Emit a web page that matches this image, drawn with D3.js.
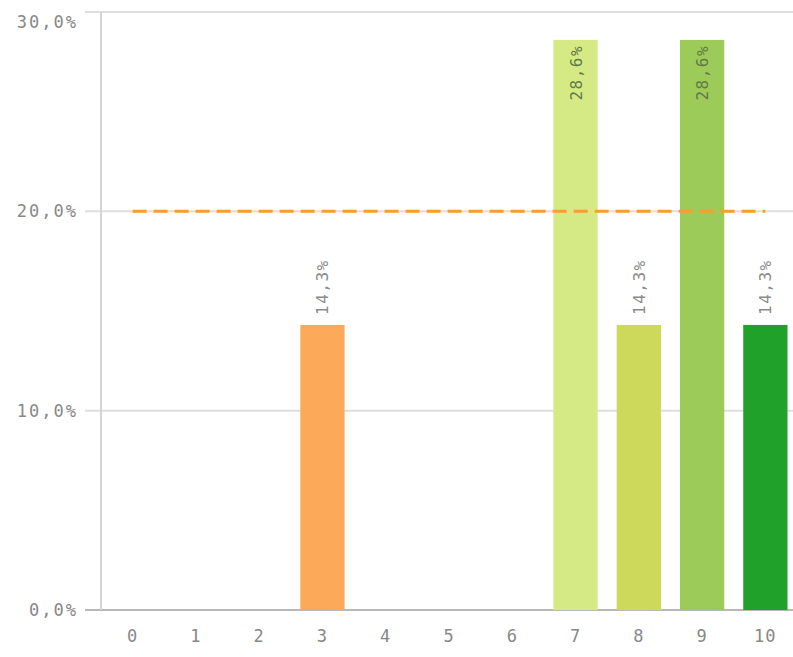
<!DOCTYPE html>
<html>
<head>
<meta charset="utf-8">
<script src="https://cdn.jsdelivr.net/npm/d3@7"></script>
<style>
body { margin: 0; background: #fff; }
text { font-family: "DejaVu Sans Mono", monospace; }
</style>
</head>
<body>
<div class="chart"></div>
<script>
var categories = ["0", "1", "2", "3", "4", "5", "6", "7", "8", "9", "10"];
var values = [0, 0, 0, 14.3, 0, 0, 0, 28.6, 14.3, 28.6, 14.3];
var colors = ["#fca95a", "#fca95a", "#fca95a", "#fca95a", "#fbd46a", "#fbd46a", "#fbd46a", "#d5ea84", "#cdd95a", "#9ccb5a", "#20a22a"];
var yTicks = [0, 10, 20, 30];
var target = 20;

var width = 793,
	height = 657;

var x = d3.scaleBand()
	.domain(categories)
	.range([101, 797])
	.paddingInner(0.3)
	.paddingOuter(0.15);

var y = d3.scaleLinear()
	.domain([0, 30])
	.range([610, 12]);

var fmt = function(d) { return d.toFixed(1).replace(".", ",") + "%"; };

var svg = d3.select(".chart")
	.append("svg")
	.attr("width", width)
	.attr("height", height);

// grid + y labels
var grid = svg.append("g").selectAll("g")
	.data(yTicks)
	.enter()
	.append("g");

grid.append("line")
	.attr("x1", 85)
	.attr("x2", width)
	.attr("y1", function(d) { return y(d); })
	.attr("y2", function(d) { return y(d); })
	.style("stroke", function(d) { return d == 0 ? "#b8b8b8" : "#dedede"; })
	.style("stroke-width", "2px");

grid.append("text")
	.attr("x", 78)
	.attr("y", function(d) { return d == 30 ? y(d) + 10 : y(d); })
	.attr("dy", "0.35em")
	.attr("text-anchor", "end")
	.style("font-size", "17px")
	.style("letter-spacing", "2px")
	.style("fill", "#888")
	.text(fmt);

svg.append("line")
	.attr("x1", 101).attr("x2", 101)
	.attr("y1", 12).attr("y2", 610)
	.style("stroke", "#d4d4d4")
	.style("stroke-width", "2px");

// x labels
svg.append("g").selectAll("text")
	.data(categories)
	.enter()
	.append("text")
	.attr("x", function(d) { return x(d) + x.bandwidth() / 2; })
	.attr("y", 636)
	.attr("dy", "0.35em")
	.attr("text-anchor", "middle")
	.style("font-size", "17px")
	.style("letter-spacing", "1px")
	.style("fill", "#888")
	.text(function(d) { return d; });

// bars
svg.append("g").selectAll("rect")
	.data(values)
	.enter()
	.append("rect")
	.attr("x", function(d, i) { return x(categories[i]); })
	.attr("width", x.bandwidth())
	.attr("y", function(d) { return y(d); })
	.attr("height", function(d) { return y(0) - y(d); })
	.style("fill", function(d, i) { return colors[i]; });

// value labels
svg.append("g").selectAll("text")
	.data(values.map(function(v, i) { return {v: v, c: categories[i]}; }).filter(function(d) { return d.v > 0; }))
	.enter()
	.append("text")
	.attr("transform", function(d) {
		var cx = x(d.c) + x.bandwidth() / 2 + 6;
		var inside = d.v > 25;
		var yy = inside ? y(d.v) + 5 : y(d.v) - 10;
		return "translate(" + cx + "," + yy + ") rotate(-90)";
	})
	.attr("text-anchor", function(d) { return d.v > 25 ? "end" : "start"; })
	.style("font-size", "16px")
	.style("letter-spacing", "1.5px")
	.style("fill", function(d) { return d.v > 25 ? "#617a45" : "#8a8a8a"; })
	.text(function(d) { return fmt(d.v); });

// target line
svg.append("line")
	.attr("x1", x(categories[0]) + x.bandwidth() / 2)
	.attr("x2", x(categories[categories.length - 1]) + x.bandwidth() / 2)
	.attr("y1", y(target))
	.attr("y2", y(target))
	.style("stroke", "#f5a02a")
	.style("stroke-width", "3px")
	.style("stroke-dasharray", "14,7");
</script>
</body>
</html>
